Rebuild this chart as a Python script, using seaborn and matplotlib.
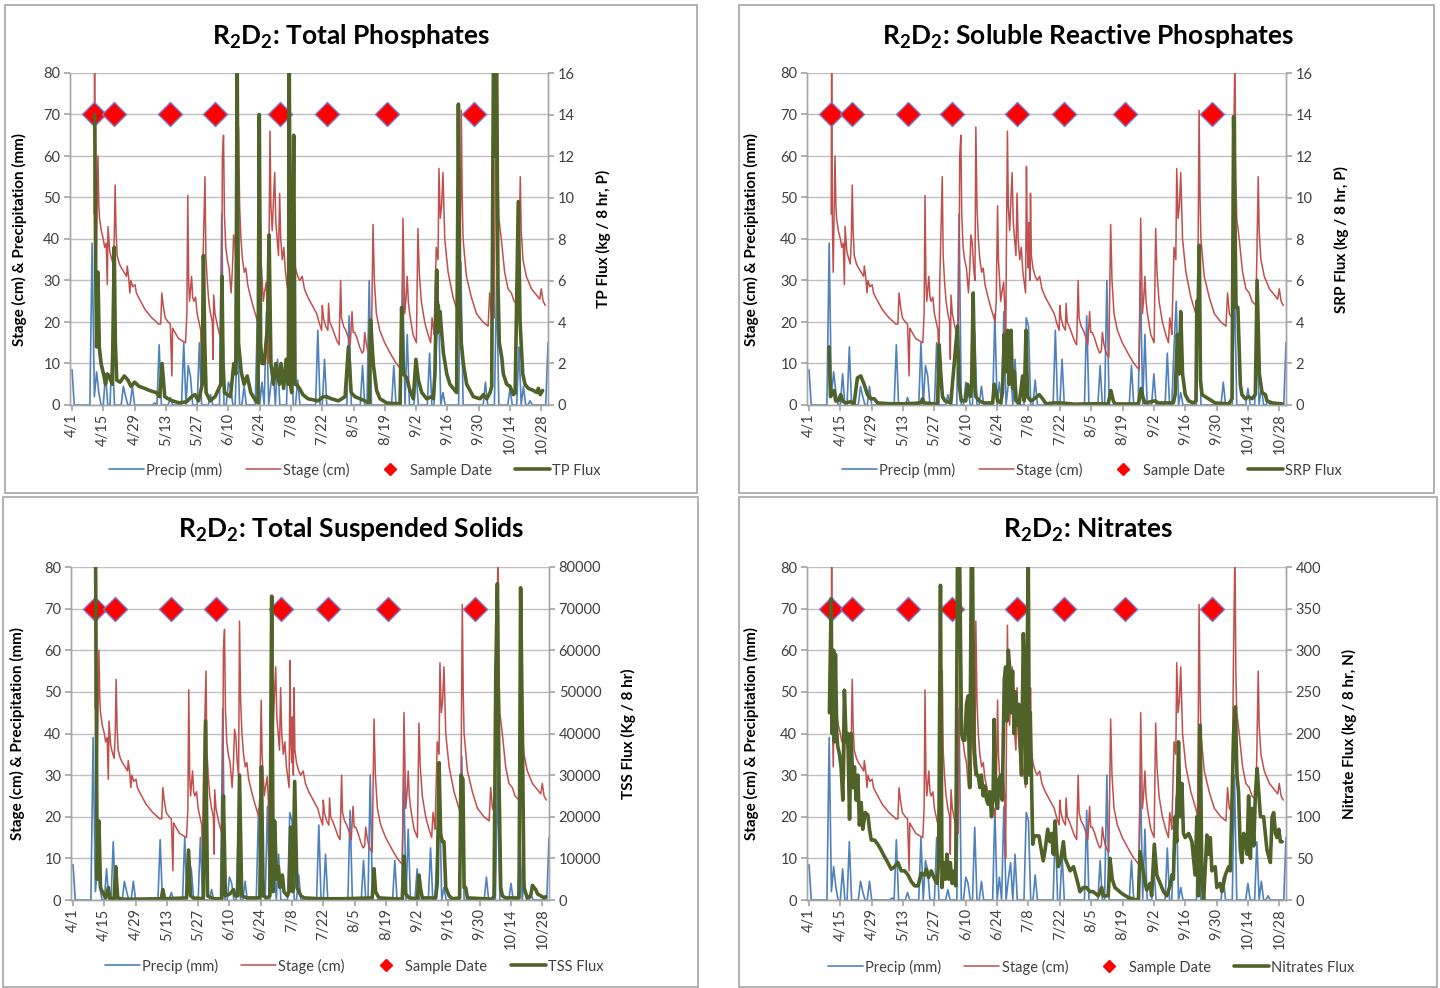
import matplotlib
matplotlib.use("Agg")
import matplotlib.pyplot as plt
from matplotlib.lines import Line2D
from matplotlib.patches import Rectangle
import numpy as np
import pandas as pd
import seaborn as sns

# ---------------- data ----------------
# x axis: days since 4/1
tick_days = [0, 14, 28, 42, 56, 70, 84, 98, 112, 126, 140, 154, 168, 182, 196, 210]
tick_labels = ["4/1", "4/15", "4/29", "5/13", "5/27", "6/10", "6/24", "7/8",
               "7/22", "8/5", "8/19", "9/2", "9/16", "9/30", "10/14", "10/28"]

# daily precipitation (mm); days not listed had no rain
n_days = 214
rain_day = [0, 9, 10, 11, 12, 15, 18, 23, 24, 27, 37, 39, 44, 50, 52, 53, 57, 62,
            67, 70, 71, 74, 77, 83, 85, 87, 89, 90, 92, 97, 98, 101, 110, 113, 124,
            130, 133, 144, 148, 150, 154, 160, 163, 164, 166, 174, 185, 190, 196,
            200, 202, 205, 213]
rain_mm = [8.5, 39, 2, 8, 3, 7.5, 14, 4.5, 2, 4.5, 0.5, 14.5, 1.8, 15, 9.5, 7, 15, 2.5,
           46, 5.5, 4, 17.5, 4.5, 22, 5.5, 22.5, 5, 9, 11, 21, 19, 6, 18, 11, 21.5,
           9.5, 30, 9.5, 30, 17, 7.5, 12.5, 14, 25, 3, 34.5, 5.5, 30, 4,
           14, 4.5, 1, 15]

# stage record (cm)
stage_day = [9.9, 10.1, 10.4, 10.8, 11.6, 12.0, 12.3, 13.1, 14.0, 14.6, 15.3, 15.8, 16.1,
             16.9, 17.6, 18.4, 18.9, 19.3, 19.7, 20.2, 21.2, 22.1, 23.3, 24.4, 24.7, 25.3,
             25.9, 26.3, 27.2, 28.2, 28.8, 29.7, 31.2, 32.7, 34.2, 35.7, 37.2, 38.7, 39.7,
             40.2, 40.8, 41.7, 43.0, 44.0, 44.7, 45.0, 45.5, 46.6, 47.7, 49.2, 50.8, 51.4,
             51.8, 52.2, 52.6, 53.5, 54.0, 54.5, 55.3, 56.0, 56.8, 57.6, 58.0, 58.4, 59.0,
             59.5, 59.9, 60.5, 61.2, 62.0, 62.8, 63.1, 63.4, 64.0, 65.1, 65.8, 66.6, 67.0,
             67.3, 67.8, 68.2, 68.8, 69.5, 70.3, 71.2, 71.8, 72.3, 72.9, 73.5, 74.1, 74.5,
             75.0, 75.6, 76.3, 77.1, 77.8, 78.6, 79.7, 80.9, 82.0, 83.1, 83.6, 84.2, 84.6,
             85.1, 85.6, 86.1, 86.9, 87.4, 87.8, 88.1, 88.6, 89.0, 89.6, 90.2, 90.7, 91.2,
             91.8, 92.4, 92.9, 93.4, 94.1, 94.8, 95.5, 96.2, 96.7, 97.1, 97.5, 97.9, 98.2,
             98.6, 98.9, 99.3, 100.0, 101.0, 101.9, 103.0, 104.0, 105.5, 107.0, 108.5,
             109.5, 110.5, 111.7, 112.0, 112.5, 113.5, 114.5, 114.8, 115.3, 116.5, 117.5,
             118.5, 119.5, 120.2, 120.6, 121.5, 122.5, 123.5, 124.5, 125.3, 125.8, 126.5,
             127.6, 128.7, 129.8, 130.5, 131.0, 131.6, 132.4, 133.2, 133.9, 134.7, 135.3,
             136.2, 137.7, 139.9, 141.4, 142.9, 145.1, 146.6, 147.4, 148.1, 148.6, 148.9,
             149.5, 150.0, 150.5, 151.1, 152.6, 154.1, 154.8, 155.4, 156.3, 157.8, 159.3,
             160.5, 161.1, 161.6, 162.0, 163.0, 163.8, 164.2, 164.8, 165.4, 166.0, 166.8,
             168.3, 170.5, 172.7, 173.5, 174.2, 174.6, 175.0, 176.5, 178.7, 181.0, 183.9,
             186.2, 186.9, 187.7, 188.9, 189.5, 190.2, 190.6, 191.0, 192.1, 193.6, 195.1,
             196.6, 197.8, 199.6, 200.6, 201.0, 201.8, 203.3, 205.6, 207.8, 209.3, 210.0,
             210.8, 211.8]
stage_cm = [46, 85, 46, 32, 60, 48, 45, 42, 40, 38, 39, 29, 43,
            37, 35.5, 34, 40, 53, 42, 36, 34, 33, 32, 31, 33.5, 31,
            27, 30, 28.5, 29, 27, 26, 24.5, 23, 22, 21, 20.3, 19.5, 19.5,
            27, 24, 21, 20, 19.5, 7, 18.5, 18, 17, 16, 15.5, 15, 22,
            50.5, 30, 25, 31, 26, 25, 26, 22, 20, 18, 9, 30, 44,
            55, 36, 30, 25, 22, 20, 11, 26.5, 22, 19, 17.5, 16, 30,
            60, 65, 46, 38, 35, 33, 27, 33, 41, 39, 33, 30, 67,
            48, 40, 35, 32, 33, 29, 26.5, 24, 22, 20, 25, 48, 35,
            30, 25, 27, 29.6, 24, 10, 35, 66, 48, 42, 50, 56, 44,
            40, 36, 51, 40, 35, 38, 32, 29, 27, 57.5, 38, 33, 44,
            30, 51, 36, 33, 31, 30, 31, 28, 26, 24.5, 23,
            22, 20, 18, 24, 21, 19, 18, 24.5, 20, 18.5, 17,
            15.5, 14.5, 30, 21, 19, 18, 16.5, 14.5, 22.5, 17.5, 17.5,
            16, 14, 12.5, 13, 17.5, 15, 13, 12, 11.5, 43.5, 30,
            22, 18, 15, 13.5, 12, 10, 9, 8.5, 45, 30, 22,
            26, 31, 25, 22, 17, 15, 42.5, 32, 25, 20, 17,
            15, 21, 19, 17, 38, 35, 57, 45, 48, 56, 40,
            32, 26, 22, 20, 71, 50, 40, 31, 26, 22, 20,
            19, 27, 22, 21, 56, 85, 55, 45, 40, 32, 28,
            27, 25, 24, 55, 42, 35, 31, 28, 26.5, 25.5, 28,
            25, 24]

# sampling dates (days since 4/1), plotted at 70 on the left axis
sample_day = [10, 19, 44, 64, 93, 114, 141, 180]
sample_level = [70] * len(sample_day)

# total phosphorus flux (kg / 8 hr, P)
tp_day = [10.2, 10.6, 11.0, 11.6, 12.2, 13.0, 14.3, 15.0, 15.8, 16.6, 18.0, 18.9, 19.4,
          20.0, 21.5, 23.4, 25.0, 26.4, 28.0, 30.0, 32.5, 34.7, 37.7, 39.2, 40.3, 41.5,
          43.0, 45.0, 48.0, 51.3, 53.5, 55.0, 56.6, 58.3, 58.8, 59.4, 60.0, 61.8, 64.0,
          66.6, 67.1, 67.6, 68.2, 70.9, 72.4, 73.3, 73.9, 74.5, 75.7, 77.0, 78.4, 80.0,
          82.2, 83.2, 83.8, 84.4, 85.0, 86.0, 87.5, 88.2, 89.0, 90.2, 91.2, 92.8, 93.5,
          94.7, 95.8, 96.8, 97.2, 97.8, 98.3, 99.2, 99.8, 100.3, 101.8, 103.3, 105.6,
          110.1, 112.4, 113.9, 116.1, 119.2, 122.2, 123.7, 124.9, 126.6, 128.9, 131.1,
          133.0, 133.6, 134.8, 136.3, 137.8, 140.8, 146.8, 147.5, 148.3, 149.8, 151.2,
          152.7, 153.9, 155.0, 156.5, 158.7, 160.9, 161.7, 162.4, 163.2, 163.6, 163.9,
          164.3, 164.7, 165.4, 166.2, 167.7, 169.1, 170.6, 172.1, 172.9, 173.5, 174.2,
          175.1, 176.6, 178.1, 179.6, 182.6, 184.1, 185.6, 187.1, 187.8, 188.6, 189.3,
          190.0, 190.6, 191.2, 192.3, 193.0, 194.5, 196.0, 197.5, 198.3, 199.7, 200.5,
          201.7, 202.7, 204.2, 206.5, 208.0, 208.7, 209.5, 210.6]
tp_flux = [14.0, 6.4, 2.8, 6.4, 2.8, 2.0, 1.4, 1.0, 1.5, 1.4, 1.0, 7.6, 3.0,
           1.2, 1.1, 1.4, 1.2, 0.9, 1.1, 0.9, 0.8, 0.7, 0.6, 0.4, 2.0, 0.4,
           0.3, 0.2, 0.1, 0.16, 0.4, 0.5, 0.2, 1.0, 7.2, 3.0, 0.6, 0.2, 0.4,
           1.0, 6.2, 2.0, 0.6, 0.4, 2.0, 1.5, 17.0, 3.0, 1.6, 1.0, 1.4, 0.6,
           0.2, 0.1, 14.0, 3.0, 2.0, 2.0, 3.8, 8.2, 2.0, 1.0, 2.0, 1.0, 2.0,
           0.8, 2.2, 1.0, 17.0, 1.0, 0.6, 13.0, 1.0, 1.0, 0.8, 0.5, 0.3,
           0.2, 0.4, 0.4, 0.3, 0.2, 0.4, 2.8, 0.6, 0.4, 0.3, 0.2,
           0.1, 4.1, 2.0, 0.7, 0.3, 0.1, 0.05, 4.7, 1.5, 1.3, 0.7,
           0.3, 2.2, 1.2, 0.6, 0.3, 0.4, 0.3, 1.5, 6.5, 3.5, 4.8,
           3.8, 4.5, 3.5, 2.5, 1.5, 1.0, 0.8, 0.6, 14.5, 5.0, 3.0,
           2.0, 1.0, 0.7, 0.4, 0.3, 0.5, 0.3, 0.6, 0.9, 17.0, 12.0,
           17.0, 6.0, 3.0, 2.3, 1.5, 1.0, 0.9, 0.5, 0.6, 9.8, 4.0,
           1.5, 1.0, 0.8, 0.7, 0.6, 0.8, 0.5, 0.7]

# soluble reactive phosphorus flux (kg / 8 hr, P)
srp_day = [8.9, 9.6, 10.3, 11.2, 11.9, 13.0, 14.2, 14.9, 16.4, 18.6, 20.1, 21.0, 21.6,
           23.1, 24.6, 26.1, 27.6, 29.1, 30.6, 36.5, 44.0, 49.9, 50.7, 51.4, 57.4, 58.1,
           58.9, 59.6, 60.7, 63.3, 66.3, 67.0, 68.0, 70.0, 70.8, 72.0, 72.6, 73.3, 74.0,
           74.5, 76.0, 78.2, 82.0, 82.7, 83.4, 84.2, 85.6, 86.4, 87.2, 87.9, 88.7, 89.4,
           90.2, 90.9, 91.7, 92.4, 93.9, 95.4, 96.1, 96.9, 97.6, 99.1, 100.6, 102.8, 104.3,
           105.8, 109.5, 112.5, 118.5, 127.4, 133.6, 134.8, 135.9, 136.6, 147.1, 148.3,
           149.3, 150.1, 154.5, 156.0, 162.7, 163.5, 164.5, 165.3, 166.0, 166.8, 168.0,
           169.5, 171.7, 172.8, 173.2, 173.8, 174.3, 174.8, 175.5, 178.4, 181.4, 187.4,
           188.9, 189.6, 190.7, 191.5, 192.6, 193.3, 194.8, 196.3, 197.8, 199.3, 200.1,
           201.1, 202.3, 203.8, 204.5, 206.8, 211.3]
srp_flux = [2.8, 0.4, 0.6, 0.7, 0.2, 0.2, 0.5, 0.2, 0.1, 0.16, 0.06, 0.8, 1.3,
            1.4, 1.0, 0.5, 0.3, 0.3, 0.1, 0.06, 0.06, 0.1, 0.3, 0.1, 0.04, 2.9,
            1.4, 0.4, 0.2, 0.1, 3.8, 1.0, 0.2, 0.2, 1.0, 0.4, 1.0, 5.4, 1.0,
            0.4, 0.2, 0.1, 0.1, 1.0, 0.7, 0.2, 0.1, 0.6, 3.4, 1.6, 3.6, 1.0,
            3.6, 0.8, 1.6, 0.2, 0.1, 1.4, 0.2, 3.6, 0.4, 0.2, 0.3, 0.5, 0.3,
            0.06, 0.1, 0.1, 0.04, 0.06, 0.05, 0.7, 0.2, 0.05, 0.05, 0.8,
            0.3, 0.1, 0.2, 0.1, 0.1, 0.5, 3.4, 1.5, 4.5, 1.5, 0.5,
            0.2, 0.1, 0.2, 5.0, 5.0, 7.7, 1.2, 0.5, 0.3, 0.1, 0.05,
            0.3, 13.9, 4.7, 4.7, 1.0, 0.5, 0.3, 0.4, 0.3, 0.5, 6.0,
            1.5, 0.6, 0.5, 0.2, 0.1, 0.05]

# total suspended solids flux (kg / 8 hr)
tss_day = [10.1, 10.8, 11.6, 12.3, 13.1, 14.6, 15.8, 16.4, 18.4, 19.1, 20.0, 22.1, 28.2,
           39.5, 40.2, 41.0, 50.8, 51.7, 52.6, 53.8, 58.3, 59.3, 60.2, 62.8, 66.6, 67.3,
           68.2, 70.3, 71.8, 72.6, 73.8, 74.5, 75.5, 77.9, 83.6, 84.3, 85.1, 86.9, 88.1,
           88.9, 89.6, 90.2, 91.1, 91.9, 92.6, 93.7, 94.4, 95.9, 96.7, 97.4, 98.3, 99.2,
           100.2, 102.0, 103.5, 111.0, 118.5, 120.5, 133.9, 134.7, 135.4, 136.9, 147.4,
           148.1, 148.9, 149.6, 150.4, 154.1, 154.8, 155.6, 156.3, 162.3, 163.0, 163.8,
           164.5, 165.3, 166.0, 166.8, 168.3, 169.8, 173.0, 173.6, 174.5, 175.0, 175.7,
           176.5, 187.7, 188.4, 189.2, 189.9, 190.6, 191.4, 192.1, 193.6, 199.6, 200.3,
           201.1, 201.8, 203.3, 204.8, 205.6, 206.3, 207.1, 207.8, 209.3, 210.8, 211.5]
tss_flux = [82000, 5000, 19000, 3000, 2000, 500, 3000, 500, 300, 8000, 500, 200, 200,
            300, 2500, 300, 500, 12000, 1000, 500, 300, 43000, 1000, 300, 300, 25000,
            1000, 1500, 2500, 1000, 1000, 30000, 1000, 500, 500, 32000, 1000, 500, 1000,
            73000, 2000, 19000, 5000, 8000, 3000, 6000, 2000, 1000, 2000, 17500, 2000, 28500,
            3000, 1000, 500, 300, 300, 300, 500, 7500, 2000, 500, 200,
            10500, 1500, 1000, 500, 300, 6000, 2500, 500, 500, 4000, 33000,
            16000, 14000, 14000, 3000, 1000, 300, 500, 30000, 29000, 3000, 3000,
            500, 200, 1000, 55000, 76000, 30000, 3000, 1000, 500, 500, 75000,
            40000, 3000, 500, 1000, 3500, 3000, 2500, 1500, 1000, 500, 800]

# nitrate flux (kg / 8 hr, N)
no3_day = [9.1, 9.9, 10.3, 10.9, 11.3, 11.8, 12.4, 12.8, 13.6, 14.3, 15.1, 15.8, 16.6,
           17.3, 18.1, 18.8, 19.6, 20.3, 21.0, 21.8, 22.5, 23.3, 24.0, 25.1, 26.3, 27.0,
           27.8, 29.3, 30.7, 32.2, 33.7, 35.2, 36.7, 38.2, 39.7, 41.2, 42.7, 44.2, 45.7,
           47.2, 48.7, 50.1, 51.6, 52.4, 53.4, 54.6, 56.1, 57.3, 57.9, 58.7, 59.4, 60.1,
           60.9, 61.6, 62.4, 63.1, 63.9, 64.8, 65.5, 66.3, 67.3, 68.1, 68.8, 69.6, 70.3,
           71.0, 71.8, 72.5, 73.0, 73.6, 74.0, 74.8, 75.5, 76.3, 77.0, 77.8, 78.5, 79.3,
           80.0, 80.7, 81.5, 82.2, 82.7, 83.3, 84.2, 84.8, 85.7, 86.3, 87.2, 87.8, 88.4,
           89.0, 89.7, 90.1, 90.9, 91.6, 92.2, 93.1, 93.7, 94.3, 94.9, 95.7, 96.4, 96.9,
           97.5, 97.9, 98.4, 98.8, 99.4, 99.9, 100.6, 101.6, 102.7, 103.6, 104.6, 105.4,
           106.6, 107.6, 108.4, 109.1, 109.9, 110.6, 111.3, 112.5, 113.6, 114.3, 115.1,
           116.6, 118.1, 119.6, 121.0, 122.5, 123.9, 125.4, 126.9, 129.2, 130.7, 131.4,
           133.6, 134.4, 135.4, 136.6, 139.6, 142.6, 145.6, 147.1, 147.8, 148.6, 149.3,
           150.1, 150.8, 152.3, 153.0, 154.2, 155.3, 156.8, 158.3, 159.8, 161.3, 162.0,
           162.7, 163.5, 164.2, 165.0, 165.7, 166.5, 167.2, 168.0, 169.5, 171.0, 172.4,
           173.2, 173.9, 174.7, 175.4, 176.2, 177.7, 178.4, 179.2, 179.9, 181.4, 182.1,
           183.6, 184.4, 185.9, 187.4, 188.1, 188.9, 189.6, 190.4, 191.1, 191.8, 192.6,
           193.3, 194.1, 194.8, 195.6, 196.3, 197.1, 197.8, 198.6, 199.3, 200.1, 200.8,
           201.6, 203.0, 204.5, 206.0, 206.8, 207.5, 208.3, 209.0, 209.8, 210.5, 211.3]
no3_flux = [225, 362, 200, 300, 190, 295, 200, 185, 175, 160, 120, 252, 190,
            200, 97, 200, 135, 160, 120, 150, 90, 117, 85, 105, 102, 85,
            72, 72, 67, 60, 52, 45, 37, 40, 45, 35, 35, 30, 22,
            17, 17, 32, 30, 37, 27, 35, 25, 20, 50, 378, 15, 45,
            25, 55, 25, 45, 20, 35, 17, 420, 400, 200, 192, 192, 235,
            245, 135, 420, 420, 200, 175, 150, 150, 135, 150, 125, 137, 120,
            115, 130, 100, 125, 217, 125, 110, 145, 150, 120, 265, 280, 215,
            300, 275, 225, 275, 200, 250, 210, 235, 190, 150, 320, 250, 140,
            315, 420, 150, 225, 135, 67, 77, 77, 77, 62, 47, 60,
            85, 70, 80, 55, 95, 60, 40, 50, 70, 50, 45,
            35, 40, 25, 10, 15, 15, 10, 10, 5, 15, 5,
            5, 50, 25, 15, 8, 3, 0.5, 0.5, 58, 45, 35,
            20, 12, 20, 5, 67, 30, 20, 10, 5, 18, 30,
            25, 100, 70, 190, 100, 140, 80, 75, 80, 70, 30,
            100, 5, 210, 30, 0, 78, 55, 75, 35, 40, 15,
            20, 10, 30, 40, 35, 120, 200, 232, 150, 130, 60,
            45, 80, 75, 55, 125, 50, 110, 65, 125, 158, 130,
            100, 100, 60, 45, 100, 105, 80, 75, 85, 70, 70]

panels = [
    dict(title=r"$\mathbf{R_2D_2}$: Total Phosphates", day=tp_day, flux=tp_flux,
         flux_name="TP Flux", ylabel2="TP Flux (kg / 8 hr, P)",
         yticks2=[0, 2, 4, 6, 8, 10, 12, 14, 16]),
    dict(title=r"$\mathbf{R_2D_2}$: Soluble Reactive Phosphates", day=srp_day, flux=srp_flux,
         flux_name="SRP Flux", ylabel2="SRP Flux (kg / 8 hr, P)",
         yticks2=[0, 2, 4, 6, 8, 10, 12, 14, 16]),
    dict(title=r"$\mathbf{R_2D_2}$: Total Suspended Solids", day=tss_day, flux=tss_flux,
         flux_name="TSS Flux", ylabel2="TSS Flux (Kg / 8 hr)",
         yticks2=[0, 10000, 20000, 30000, 40000, 50000, 60000, 70000, 80000]),
    dict(title=r"$\mathbf{R_2D_2}$: Nitrates", day=no3_day, flux=no3_flux,
         flux_name="Nitrates Flux", ylabel2="Nitrate Flux (kg / 8 hr, N)",
         yticks2=[0, 50, 100, 150, 200, 250, 300, 350, 400]),
]

# ---------------- style ----------------
sns.set_theme(style="white")
plt.rcParams["font.family"] = ["Lato", "DejaVu Sans"]
plt.rcParams["mathtext.fontset"] = "custom"
plt.rcParams["mathtext.rm"] = "Lato"
plt.rcParams["mathtext.bf"] = "Lato:bold"

BLUE = "#4F81BD"
RED = "#C0504D"
GREEN = "#4F6228"
GRID = "#C0C0C0"
AXIS = "#A6A6A6"
TXT = "#404040"

W, H = 1440, 988
fig = plt.figure(figsize=(W / 100, H / 100), dpi=100)
fig.patch.set_facecolor("white")

# layout in pixels: frame box, plot area, title centre, legend centre, label offsets
layout = [
    dict(box=(5, 5, 697, 493), area=(70, 73, 548, 405), title=(351, 37), leg=(355, 470),
         yl=-0.090, yr=1.100),
    dict(box=(739, 5, 1434, 493), area=(807, 73, 1286, 405), title=(1088, 37), leg=(1092, 470),
         yl=-0.100, yr=1.100),
    dict(box=(3, 497, 698, 987), area=(71, 567, 549, 900), title=(351, 530), leg=(354, 966),
         yl=-0.096, yr=1.150),
    dict(box=(739, 497, 1437, 987), area=(807, 567, 1286, 900), title=(1088, 530), leg=(1091, 967),
         yl=-0.100, yr=1.116),
]

rain_full = np.zeros(n_days)
rain_full[rain_day] = rain_mm
rain_df = pd.DataFrame({"day": np.arange(n_days), "mm": rain_full})
stage_df = pd.DataFrame({"day": stage_day, "cm": stage_cm})
sample_df = pd.DataFrame({"day": sample_day, "level": sample_level})

for p, lay in zip(panels, layout):
    bx0, by0, bx1, by1 = lay["box"]
    fig.add_artist(Rectangle((bx0 / W, 1 - by1 / H), (bx1 - bx0) / W, (by1 - by0) / H,
                             transform=fig.transFigure, fill=False, ec=AXIS, lw=1.2))
    x0, y0, x1, y1 = lay["area"]
    ax = fig.add_axes([x0 / W, 1 - y1 / H, (x1 - x0) / W, (y1 - y0) / H])
    ax2 = ax.twinx()

    sns.lineplot(data=rain_df, x="day", y="mm", ax=ax, color=BLUE, lw=1.2,
                 estimator=None, sort=False, legend=False)
    sns.lineplot(data=stage_df, x="day", y="cm", ax=ax, color=RED, lw=1.1,
                 estimator=None, sort=False, legend=False)
    sns.scatterplot(data=sample_df, x="day", y="level", ax=ax, marker="D", s=150,
                    color="#FF0000", edgecolor="#7A7AC8", linewidth=1.0, zorder=5,
                    legend=False)
    flux_df = pd.DataFrame({"day": p["day"], "flux": p["flux"]})
    sns.lineplot(data=flux_df, x="day", y="flux", ax=ax2, color=GREEN, lw=2.6,
                 estimator=None, sort=False, legend=False)

    ax.set_xlim(-0.9, 213)
    ax.set_ylim(0, 80)
    ax.set_yticks(range(0, 81, 10))
    ax2.set_ylim(0, p["yticks2"][-1])
    ax2.set_yticks(p["yticks2"])
    ax.set_xticks(tick_days)
    ax.set_xticklabels(tick_labels, rotation=90)

    ax.grid(axis="y", color=GRID, lw=1.0)
    ax.grid(axis="x", visible=False)
    ax2.grid(False)
    for a in (ax, ax2):
        a.spines["top"].set_visible(False)
        for s in ("left", "right", "bottom"):
            a.spines[s].set_color(AXIS)
            a.spines[s].set_linewidth(1.0)
    ax.tick_params(axis="y", length=4, color=AXIS, labelsize=10.5, labelcolor=TXT, pad=3)
    ax.tick_params(axis="x", length=4, color=AXIS, labelsize=10.5, labelcolor=TXT, pad=2,
                   direction="out", bottom=True)
    ax2.tick_params(axis="y", length=4, color=AXIS, labelsize=10.5, labelcolor=TXT, pad=3,
                    right=True)

    ax.set_xlabel("")
    ax.set_ylabel("Stage (cm) & Precipitation (mm)", fontsize=11, fontweight="bold",
                  color="black")
    ax.yaxis.set_label_coords(lay["yl"], 0.5)
    ax2.set_ylabel(p["ylabel2"], fontsize=11, fontweight="bold", color="black",
                   rotation=90)
    ax2.yaxis.set_label_coords(lay["yr"], 0.5)

    tx, ty = lay["title"]
    fig.text(tx / W, 1 - ty / H, p["title"], ha="center", va="center", fontsize=19,
             fontweight="bold", color="black")

    handles = [
        Line2D([], [], color=BLUE, lw=1.2),
        Line2D([], [], color=RED, lw=1.1),
        Line2D([], [], color="#FF0000", marker="D", ls="none", ms=6, mec="#FF0000"),
        Line2D([], [], color=GREEN, lw=2.6),
    ]
    labels = ["Precip (mm)", "Stage (cm)", "Sample Date", p["flux_name"]]
    lx, ly = lay["leg"]
    fig.legend(handles, labels, loc="center", bbox_to_anchor=(lx / W, 1 - ly / H),
               ncol=4, frameon=False, fontsize=10.5, handlelength=2.4,
               handletextpad=0.15, columnspacing=1.6, labelcolor=TXT)

fig.savefig("out.png", dpi=100, facecolor="white")
